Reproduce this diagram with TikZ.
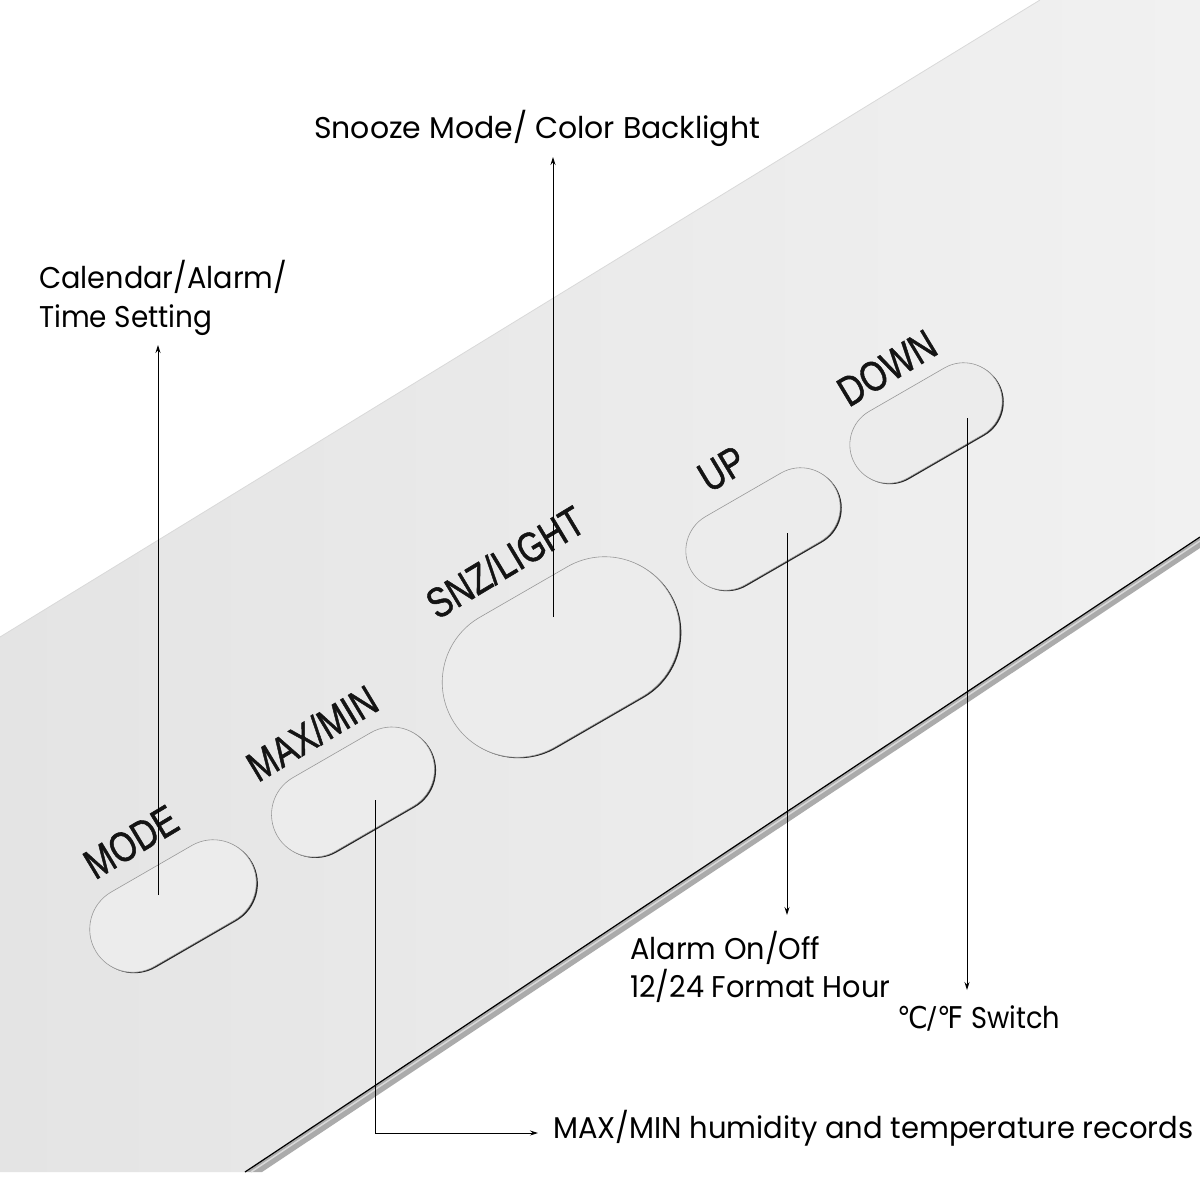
\documentclass[tikz,border=0pt]{standalone}
\usepackage{fontspec}
\setmainfont{Poppins}
\newfontfamily\btnfont[FakeBold=1.3]{Liberation Sans}
\newfontfamily\symfont{DejaVu Sans}
\usetikzlibrary{shapes.misc,arrows.meta}
\definecolor{panelL}{HTML}{E4E4E4}
\definecolor{panelR}{HTML}{F1F1F1}
\definecolor{btnfill}{HTML}{ECECEC}
\definecolor{bevel}{HTML}{ABABAB}
\newcommand\fitw[2]{\resizebox{#1pt}{\height}{#2}}
\begin{document}
\begin{tikzpicture}[x=1pt,y=-1pt,
  btn/.style={rounded rectangle, rotate=30, inner sep=0pt, fill=btnfill, draw=gray!80, line width=0.6pt},
  btnsh/.style={rounded rectangle, rotate=30, inner sep=0pt, fill=black!85, xshift=0.9pt, yshift=-1.6pt},
  lbl/.style={font=\fontsize{30}{36}\selectfont, inner sep=0pt, anchor=base west, text=black},
  btnlbl/.style={font=\btnfont\fontsize{42}{42}\selectfont, rotate=31, inner sep=0pt, text=black!92},
  conn/.style={draw=black, line width=0.9pt},
  tip/.style={-{Stealth[length=8pt,width=5pt]}}]
\useasboundingbox (0,0) rectangle (1200,1200);
\fill[white] (0,0) rectangle (1200,1200);
% panel
\shade[left color=panelL, right color=panelR]
  (0,637) -- (1040,0) -- (1200,0) -- (1200,537) -- (245,1172) -- (0,1172) -- cycle;
\fill[bevel] (1200,537) -- (1200,548) -- (262,1172) -- (245,1172) -- cycle;
\draw[white!70!gray, line width=1.5pt] (1200,541) -- (251,1172);
\draw[black, line width=1.2pt] (1200,537) -- (245,1172);
\draw[gray!30, line width=0.8pt] (0,637) -- (1040,0);
% buttons
\newcommand\mkbutton[5]{%
  \node[btnsh, minimum width=#4pt, minimum height=#5pt] at (#2,#3) {};
  \node[btn, minimum width=#4pt, minimum height=#5pt] (#1) at (#2,#3) {};}
\mkbutton{bmode}{173}{906}{179}{86}
\mkbutton{bmax}{353}{792}{175}{85}
\mkbutton{bsnz}{561}{657}{251}{150}
\mkbutton{bup}{763}{529}{166}{79}
\mkbutton{bdown}{926}{423}{164}{77}
% button labels
\node[btnlbl] (tmode) at (131,842) {\scalebox{0.8}[1]{MODE}};
\node[btnlbl] (tmax) at (312,733) {\scalebox{0.8}[1]{MAX/MIN}};
\node[btnlbl] (tsnz) at (505,562) {\scalebox{0.8}[1]{SNZ/LIGHT}};
\node[btnlbl] (tup) at (722,469) {\scalebox{0.8}[1]{UP}};
\node[btnlbl] (tdown) at (887,368) {\scalebox{0.8}[1]{DOWN}};
% annotation labels
\node[lbl] (lsnz) at (314,138) {\fitw{446}{Snooze Mode/ Color Backlight}};
\node[lbl] (lcal1) at (39,288) {\fitw{248}{Calendar/Alarm/}};
\node[lbl] (lcal2) at (39,327) {\fitw{173}{Time Setting}};
\node[lbl] (lal1) at (630,959) {\fitw{190}{Alarm On/Off}};
\node[lbl] (lal2) at (630,997) {\fitw{260}{12/24 Format Hour}};
\node[lbl] (lsw) at (897,1028) {\fitw{66}{\symfont ℃/℉}\hspace{8pt}\fitw{89}{Switch}};
\node[lbl] (lmax) at (553,1138) {\fitw{640}{MAX/MIN humidity and temperature records}};
% connectors
\coordinate (pmode) at (158,895);
\coordinate (tcal) at (158,345);
\coordinate (psnz) at (553,617);
\coordinate (tsnzl) at (553,157);
\coordinate (pup) at (787,533);
\coordinate (tal) at (787,915);
\coordinate (pdown) at (967,418);
\coordinate (tsw) at (967,990);
\coordinate (pmax) at (375,800);
\coordinate (tmx) at (538,1133);
\draw[conn,tip] (pmode) -- (tcal);
\draw[conn,tip] (psnz) -- (tsnzl);
\draw[conn,tip] (pup) -- (tal);
\draw[conn,tip] (pdown) -- (tsw);
\draw[conn,tip] (pmax) |- (tmx);
\end{tikzpicture}
\end{document}
